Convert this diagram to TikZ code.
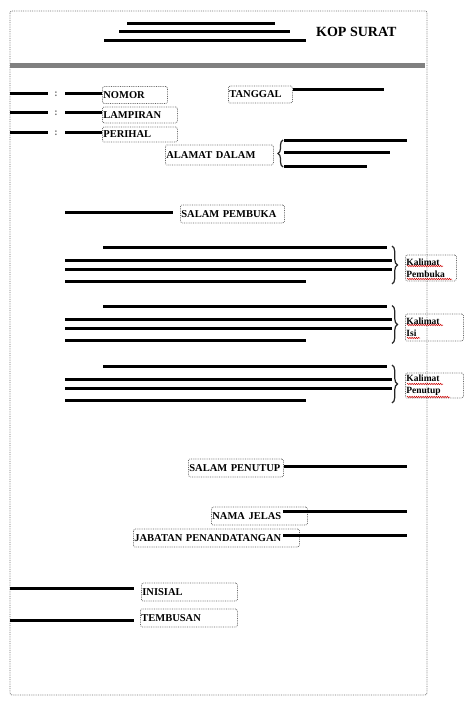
\documentclass[tikz,border=0pt]{standalone}
\usepackage{fontspec}
\setmainfont{Liberation Serif}
\usetikzlibrary{decorations.pathreplacing,decorations.pathmorphing}
\begin{document}
\begin{tikzpicture}[x=1pt,y=-1pt,
  lbl/.style={draw=black!60, densely dotted, line width=0.8pt, rounded corners=1.5pt,
    font=\bfseries\fontsize{10.5}{12}\selectfont, inner xsep=1pt, inner ysep=0pt,
    minimum height=17pt, anchor=west, align=left, text=black},
  kal/.style={lbl, font=\bfseries\fontsize{9.5}{12}\selectfont},
  bar/.style={line width=3pt, black, line cap=butt},
  brc/.style={decorate, decoration={brace, amplitude=#1}, line width=1.2pt, black!85},
  spell/.style={red!80!black, line width=0.5pt, decorate,
    decoration={snake, segment length=2.2pt, amplitude=0.7pt}},
  colon/.style={font=\bfseries\fontsize{10}{12}\selectfont, text=black!60, inner sep=0pt}
]
\useasboundingbox (0,0) rectangle (474,711);
% frame
\draw[black!55, densely dotted, line width=0.8pt, rounded corners=2pt] (10,11) rectangle (427,695);
% kop
\coordinate (k1a) at (127,23.5); \coordinate (k1b) at (275,23.5);
\coordinate (k2a) at (119,32);   \coordinate (k2b) at (290,32);
\coordinate (k3a) at (104,40.5); \coordinate (k3b) at (306,40.5);
\draw[bar] (k1a) -- (k1b);
\draw[bar] (k2a) -- (k2b);
\draw[bar] (k3a) -- (k3b);
\node[font=\bfseries\fontsize{14}{16}\selectfont, inner sep=0pt, anchor=west] (kop) at (316,32) {KOP SURAT};
\coordinate (d1) at (10,65.5); \coordinate (d2) at (425,65.5);
\draw[black!50, line width=4.5pt] (d1) -- (d2);
% header labels
\node[lbl, text width=63pt] (nomor) at (102,95) {NOMOR};
\node[lbl, text width=62pt] (tanggal) at (228,94.5) {TANGGAL};
\node[lbl, text width=73pt, minimum height=16pt] (lampiran) at (102,115) {LAMPIRAN};
\node[lbl, text width=73pt, minimum height=15pt] (perihal) at (102,134.5) {PERIHAL};
\node[lbl, text width=106pt, minimum height=20pt] (alamat) at (165,155) {ALAMAT DALAM};
% row lines
\coordinate (r1a) at (10,94);  \coordinate (r1b) at (48,94);  \coordinate (r1c) at (65,94);
\coordinate (r2a) at (10,113); \coordinate (r2b) at (48,113); \coordinate (r2c) at (65,113);
\coordinate (r3a) at (10,133); \coordinate (r3b) at (48,133); \coordinate (r3c) at (65,133);
\draw[bar] (r1a) -- (r1b); \draw[bar] (r1c) -- (r1c -| nomor.west);
\draw[bar] (r2a) -- (r2b); \draw[bar] (r2c) -- (r2c -| lampiran.west);
\draw[bar] (r3a) -- (r3b); \draw[bar] (r3c) -- (r3c -| perihal.west);
\node[colon] (c1) at (56,94) {:};
\node[colon] (c2) at (56,113) {:};
\node[colon] (c3) at (56,133) {:};
\coordinate (tg) at (384,90);
\draw[bar] (tanggal.east |- tg) -- (tg);
% alamat dalam
\draw[brc=5pt] (283,167) -- (283,140);
\coordinate (a1) at (407,140.5); \coordinate (a2) at (390,153); \coordinate (a3) at (367,166.5);
\draw[bar] (284,140.5) -- (a1);
\draw[bar] (284,153) -- (a2);
\draw[bar] (284,166.5) -- (a3);
% salam pembuka
\node[lbl, text width=102pt, minimum height=18pt] (spembuka) at (180,214) {SALAM PEMBUKA};
\coordinate (sp) at (65,212.5);
\draw[bar] (sp) -- ([xshift=-7pt]sp -| spembuka.west);
% paragraphs
\foreach \y/\n [count=\i] in {247/Pembuka, 306.5/Isi, 366/Penutup}{
  \draw[bar] (103,\y) -- (387,\y);
  \draw[bar] (65,\y+13) -- (392,\y+13);
  \draw[bar] (65,\y+22) -- (392,\y+22);
  \draw[bar] (65,\y+34) -- (306,\y+34);
  \draw[brc=5.5pt] (392,\y-1) -- (392,\y+37);
}
\node[kal, text width=49pt, minimum height=26pt] (kpembuka) at (405,268) {Kalimat\\Pembuka};
\node[kal, text width=56pt, minimum height=27pt] (kisi) at (405,327.5) {Kalimat\\Isi};
\node[kal, text width=56pt, minimum height=25pt] (kpenutup) at (405,385.5) {Kalimat\\Penutup};
\draw[spell] (407,266) -- (443,266); \draw[spell] (407,279) -- (452,279);
\draw[spell] (407,325) -- (443,325); \draw[spell] (407,338) -- (420,338);
\draw[spell] (407,384) -- (443,384); \draw[spell] (407,397) -- (450,397);
% closing
\node[lbl, text width=93pt, minimum height=18pt] (spenutup) at (188,468) {SALAM PENUTUP};
\coordinate (q1) at (407,466.5);
\draw[bar] (spenutup.east |- q1) -- (q1);
\node[lbl, text width=94pt, minimum height=18pt] (nama) at (211,516) {NAMA JELAS};
\coordinate (q2a) at (283,511.5); \coordinate (q2) at (407,511.5);
\draw[bar] (q2a) -- (q2);
\node[lbl, text width=164pt, minimum height=18pt] (jabatan) at (133,538) {JABATAN PENANDATANGAN};
\coordinate (q3a) at (283,535); \coordinate (q3) at (407,535);
\draw[bar] (q3a) -- (q3);
% inisial, tembusan
\node[lbl, text width=94pt, minimum height=18pt] (inisial) at (141,592) {INISIAL};
\node[lbl, text width=95pt, minimum height=18pt] (tembusan) at (140,618) {TEMBUSAN};
\coordinate (i1) at (10,588); \coordinate (i2) at (10,620);
\draw[bar] (i1) -- (134,588);
\draw[bar] (i2) -- (134,620);
\end{tikzpicture}
\end{document}
